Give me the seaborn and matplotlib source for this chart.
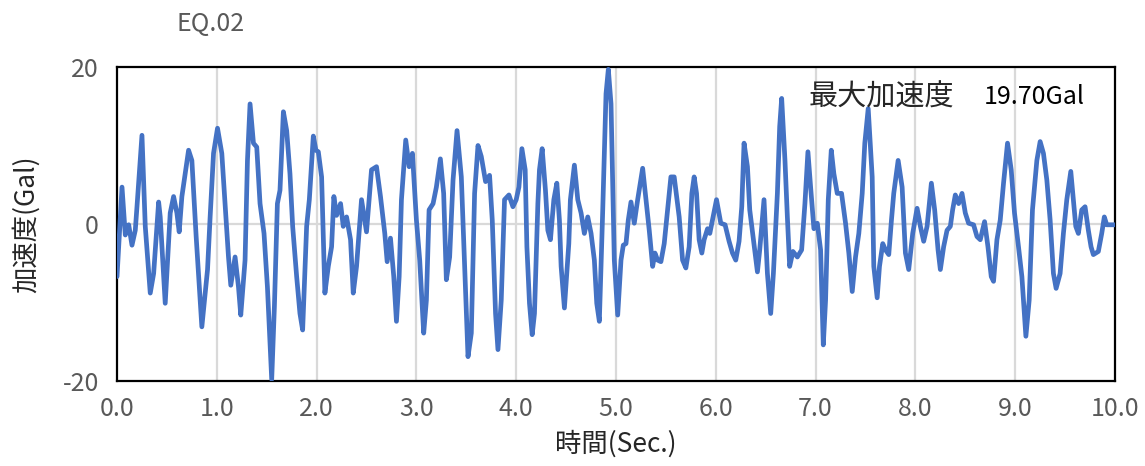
"""EQ.02 acceleration time history."""

import matplotlib
matplotlib.use("Agg")
import matplotlib.pyplot as plt
import numpy as np
import pandas as pd
import seaborn as sns


# Turning points of the trace.
time_sec = [
    0.000, 0.050, 0.083, 0.117, 0.150, 0.183, 0.200, 0.250, 0.283, 0.333,
    0.367, 0.417, 0.433, 0.483, 0.533, 0.567, 0.600, 0.623, 0.650, 0.683,
    0.717, 0.750, 0.793, 0.850, 0.907, 0.933, 0.967, 1.007, 1.050, 1.083,
    1.117, 1.140, 1.183, 1.217, 1.240, 1.283, 1.307, 1.333, 1.367, 1.400,
    1.433, 1.473, 1.507, 1.550, 1.577, 1.607, 1.633, 1.667, 1.700, 1.733,
    1.760, 1.800, 1.833, 1.860, 1.900, 1.927, 1.967, 1.993, 2.017, 2.050,
    2.083, 2.117, 2.150, 2.173, 2.200, 2.240, 2.267, 2.300, 2.340, 2.367,
    2.400, 2.450, 2.500, 2.550, 2.600, 2.640, 2.683, 2.707, 2.740, 2.773,
    2.800, 2.827, 2.850, 2.893, 2.927, 2.960, 3.000, 3.033, 3.073, 3.100,
    3.127, 3.167, 3.200, 3.240, 3.273, 3.300, 3.333, 3.367, 3.407, 3.450,
    3.483, 3.517, 3.550, 3.583, 3.617, 3.650, 3.693, 3.733, 3.760, 3.793,
    3.817, 3.850, 3.883, 3.927, 3.967, 4.000, 4.027, 4.057, 4.090, 4.107,
    4.133, 4.160, 4.183, 4.217, 4.233, 4.260, 4.293, 4.317, 4.343, 4.377,
    4.407, 4.433, 4.450, 4.483, 4.527, 4.543, 4.583, 4.617, 4.650, 4.683,
    4.717, 4.750, 4.783, 4.807, 4.833, 4.867, 4.900, 4.923, 4.950, 4.983,
    5.017, 5.050, 5.073, 5.100, 5.123, 5.150, 5.183, 5.217, 5.267, 5.300,
    5.333, 5.367, 5.390, 5.417, 5.450, 5.483, 5.517, 5.550, 5.583, 5.633,
    5.667, 5.700, 5.733, 5.760, 5.783, 5.807, 5.833, 5.860, 5.883, 5.917,
    5.940, 5.973, 6.007, 6.050, 6.093, 6.133, 6.167, 6.200, 6.233, 6.260,
    6.283, 6.317, 6.340, 6.377, 6.417, 6.440, 6.483, 6.517, 6.550, 6.577,
    6.617, 6.640, 6.660, 6.693, 6.717, 6.740, 6.773, 6.817, 6.860, 6.893,
    6.923, 6.950, 6.983, 7.017, 7.050, 7.077, 7.100, 7.127, 7.157, 7.183,
    7.217, 7.260, 7.300, 7.333, 7.367, 7.400, 7.433, 7.467, 7.493, 7.527,
    7.567, 7.583, 7.617, 7.640, 7.673, 7.700, 7.733, 7.760, 7.783, 7.827,
    7.867, 7.900, 7.933, 7.973, 8.017, 8.050, 8.083, 8.117, 8.160, 8.193,
    8.227, 8.250, 8.283, 8.317, 8.350, 8.373, 8.400, 8.433, 8.467, 8.500,
    8.533, 8.583, 8.617, 8.650, 8.693, 8.727, 8.760, 8.783, 8.817, 8.850,
    8.883, 8.923, 8.960, 8.993, 9.033, 9.067, 9.107, 9.140, 9.173, 9.217,
    9.250, 9.283, 9.317, 9.350, 9.383, 9.410, 9.450, 9.483, 9.517, 9.557,
    9.583, 9.607, 9.633, 9.667, 9.700, 9.733, 9.760, 9.783, 9.833, 9.867,
    9.893, 9.917, 10.000,
]

acc_gal = [
    -6.7, 4.7, -1.4, -0.1, -2.7, -0.8, 2.2, 11.3, -0.3, -8.8,
    -6.3, 2.8, 0.9, -10.1, 1.4, 3.5, 1.4, -1.0, 3.5, 6.4,
    9.4, 8.1, -1.6, -13.1, -5.8, 0.9, 9.0, 12.2, 9.0, 2.6,
    -4.2, -7.8, -4.2, -8.0, -11.6, -4.6, 8.1, 15.3, 10.3, 9.8,
    2.6, -1.2, -8.0, -19.8, -10.5, 2.6, 4.3, 14.3, 11.9, 6.4,
    -0.3, -6.7, -11.4, -13.5, -0.3, 3.1, 11.2, 9.4, 9.2, 6.0,
    -8.8, -5.4, -2.9, 3.5, 1.1, 2.6, -0.3, 0.9, -2.0, -8.8,
    -5.4, 3.1, -1.0, 6.9, 7.3, 3.5, -1.2, -4.8, -1.8, -6.7,
    -12.4, -6.7, 3.1, 10.7, 7.3, 9.0, 0.5, -4.6, -13.9, -9.7,
    1.8, 2.6, 4.7, 8.3, 3.9, -7.1, -4.2, 5.6, 11.9, 6.0,
    -5.4, -16.9, -13.9, 3.9, 10.0, 8.6, 5.4, 6.2, 0.5, -11.4,
    -16.0, -9.7, 3.1, 3.7, 2.2, 3.1, 4.7, 9.6, 6.9, -2.9,
    -10.1, -14.1, -11.4, 2.6, 6.9, 9.6, 4.3, -0.8, -2.0, 3.1,
    5.2, 0.5, -5.4, -10.7, -2.5, 3.1, 7.5, 3.1, 1.4, -1.2,
    0.9, -1.2, -4.6, -10.1, -12.4, 1.8, 16.6, 19.7, 15.3, -4.6,
    -11.6, -4.6, -2.7, -2.5, 0.5, 2.8, 0.1, 3.1, 7.1, 3.1,
    -0.8, -5.4, -3.7, -4.6, -4.8, -2.5, 1.8, 6.0, 6.0, 0.9,
    -4.6, -5.6, -2.9, 3.9, 6.0, 3.9, -2.0, -3.7, -2.0, -0.6,
    -1.2, 0.9, 3.1, 0.1, -0.1, -2.2, -3.7, -4.6, -2.2, 2.2,
    10.3, 7.3, 1.8, -2.0, -6.1, -3.3, 3.1, -6.3, -11.4, -6.3,
    3.9, 12.4, 16.0, 8.1, 0.9, -5.4, -3.5, -4.2, -3.3, 2.6,
    9.2, 4.7, -0.6, 0.1, -3.3, -15.4, -9.7, 3.1, 9.4, 6.4,
    3.9, 3.9, 0.1, -3.7, -8.6, -4.2, -1.2, 3.9, 10.3, 14.7,
    6.0, -5.4, -9.4, -5.4, -2.5, -3.3, -3.9, 0.5, 3.9, 8.1,
    4.7, -3.7, -5.8, -1.2, 2.0, -0.3, -2.2, -0.3, 5.2, 1.8,
    -3.3, -5.8, -2.9, -0.8, -0.3, 1.8, 3.7, 2.6, 3.9, 1.4,
    0.1, -0.1, -1.6, -2.0, 0.3, -2.9, -6.7, -7.3, -2.0, 0.5,
    5.2, 10.3, 6.9, 1.4, -2.9, -6.7, -14.3, -9.7, 1.8, 8.1,
    10.5, 9.0, 5.6, 0.5, -6.3, -8.2, -6.3, -1.2, 3.1, 6.7,
    3.1, -0.3, -1.2, 1.8, 2.2, -0.8, -2.9, -3.9, -3.5, -1.2,
    0.9, -0.1, -0.1,
]

x_ticks = [0.0, 1.0, 2.0, 3.0, 4.0, 5.0, 6.0, 7.0, 8.0, 9.0, 10.0]
y_ticks = [-20, 0, 20]

sns.set_theme(style="white")
plt.rcParams["font.family"] = ["Noto Sans CJK JP", "DejaVu Sans"]

df = pd.DataFrame({"time": time_sec, "acc": acc_gal})

fig = plt.figure(figsize=(11.45, 4.66), dpi=100)
ax = fig.add_axes([0.1022, 0.1824, 0.8716, 0.6738])

# Light gray grid: vertical at every second, horizontal only at zero.
for xt in x_ticks[1:-1]:
    ax.axvline(xt, color="#d9d9d9", lw=1.6, zorder=0)
ax.axhline(0, color="#d9d9d9", lw=1.6, zorder=0)

sns.lineplot(data=df, x="time", y="acc", estimator=None, sort=False,
             color="#4472C4", lw=3.4, ax=ax, zorder=3)
ax.lines[-1].set_solid_joinstyle("round")

ax.set_xlim(0, 10)
ax.set_ylim(-20, 20)
ax.set_xticks(x_ticks)
ax.set_xticklabels([f"{v:.1f}" for v in x_ticks])
ax.set_yticks(y_ticks)
ax.set_yticklabels([str(v) for v in y_ticks])
ax.tick_params(axis="both", direction="out", length=7, width=1.5,
               color="black", labelcolor="#595959", labelsize=18)
ax.tick_params(axis="x", pad=4)
ax.tick_params(axis="y", pad=6)
for sp in ax.spines.values():
    sp.set_color("black")
    sp.set_linewidth(1.6)

ax.set_xlabel("時間(Sec.)", fontsize=19, color="#262626", labelpad=6)
ax.set_ylabel("加速度(Gal)", fontsize=19, color="#262626", labelpad=16)

fig.text(0.184, 0.948, "EQ.02", fontsize=18, color="#595959",
         ha="center", va="center")
ax.text(0.766, 0.904, "最大加速度", transform=ax.transAxes, fontsize=21,
        color="#262626", ha="center", va="center")
ax.text(0.919, 0.904, "19.70Gal", transform=ax.transAxes, fontsize=18,
        color="black", ha="center", va="center")

fig.savefig("out.png", dpi=100)
plt.close(fig)
